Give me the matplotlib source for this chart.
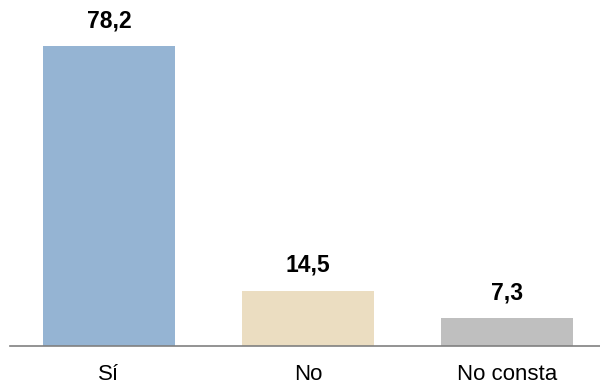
import matplotlib

matplotlib.use('Agg')
import matplotlib.pyplot as plt

# ----- data --------------------------------------------------------------
categories = ['Sí', 'No', 'No consta']
values = [78.2, 14.5, 7.3]
labels = ['78,2', '14,5', '7,3']
colors = ['#95B4D3', '#EBDDC1', '#BFBFBF']
# -------------------------------------------------------------------------

plt.rcParams['font.family'] = ['Liberation Sans', 'DejaVu Sans']

fig = plt.figure(figsize=(6, 3.87), dpi=100)
ax = fig.add_axes([0.0167, 0.1047, 0.9833, 0.8953])

x = range(len(categories))
bars = ax.bar(x, values, width=0.665, color=colors)

for bar, lab in zip(bars, labels):
    ax.annotate(lab, (bar.get_x() + bar.get_width() / 2, bar.get_height()),
                xytext=(0, 10), textcoords='offset points',
                ha='center', va='bottom', fontsize=16.5, fontweight='bold')

ax.set_xlim(-0.497, 2.467)
ax.set_ylim(0, 90.2)
ax.set_xticks(list(x))
ax.set_xticklabels(categories, fontsize=16)
ax.tick_params(axis='x', length=0, pad=12.5)
ax.set_yticks([])
for side in ('top', 'right', 'left'):
    ax.spines[side].set_visible(False)
ax.spines['bottom'].set_color('#808080')
ax.spines['bottom'].set_linewidth(1.2)

fig.savefig('out.png', dpi=100)
